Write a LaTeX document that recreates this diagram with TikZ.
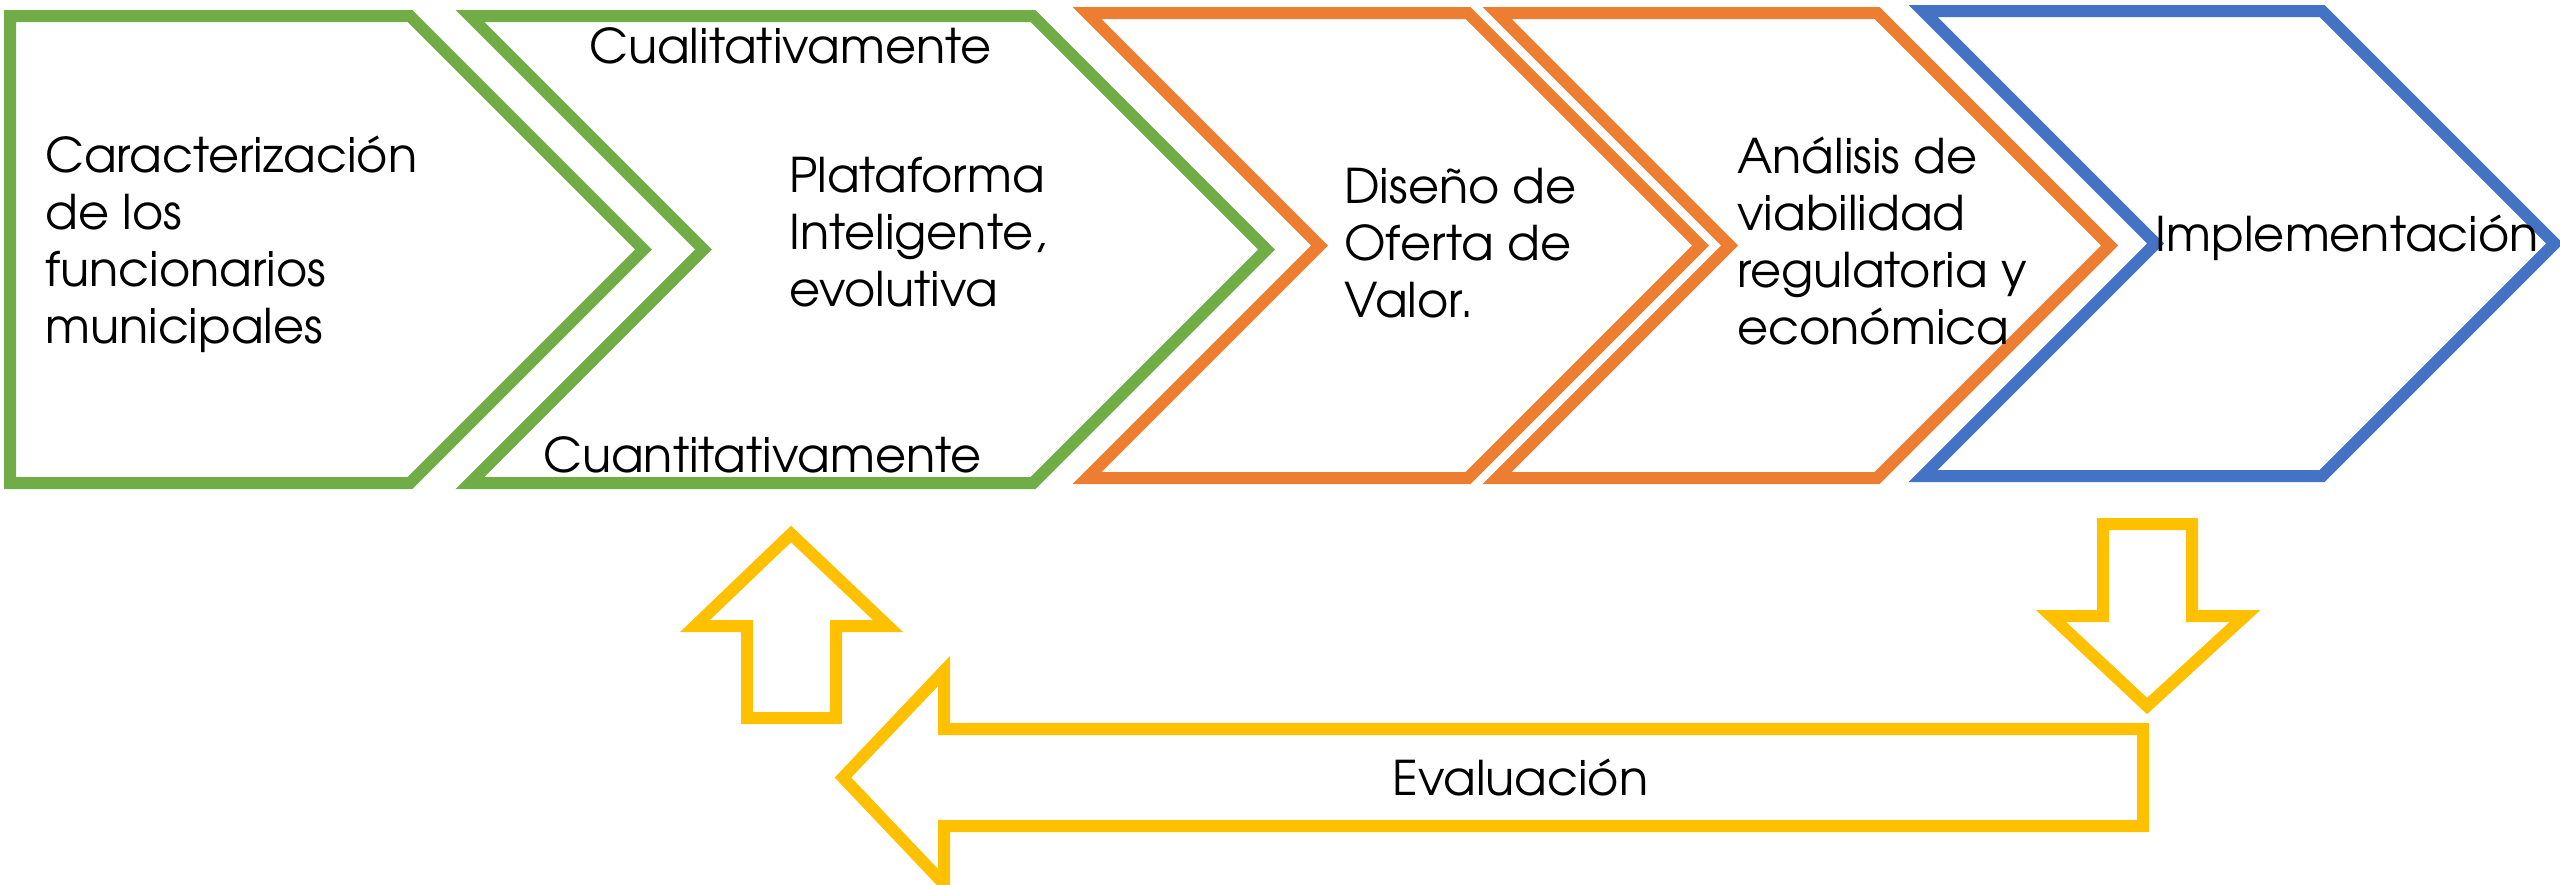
\documentclass[tikz,border=0pt]{standalone}
\usepackage{fontspec}
\setmainfont{TeX Gyre Adventor}
\definecolor{cgreen}{HTML}{70AD47}
\definecolor{corange}{HTML}{ED7D31}
\definecolor{cblue}{HTML}{4472C4}
\definecolor{cyellow}{HTML}{FFC000}
\begin{document}
\begin{tikzpicture}[x=0.5pt,y=-0.5pt,
  chev/.style={draw=#1, line width=6pt, line join=miter, miter limit=10},
  lbl/.style={inner sep=0pt, anchor=base west, align=left, font=\fontsize{23.9pt}{28.35pt}\selectfont}]
\useasboundingbox (0,0) rectangle (2560,884);
% chevrons
\draw[chev=cgreen] (10,16) -- (410,16) -- (643.5,249.5) -- (410,483) -- (10,483) -- cycle;
\draw[chev=cgreen] (470,16) -- (1033,16) -- (1266.5,249.5) -- (1033,483) -- (470,483) -- (703.5,249.5) -- cycle;
\draw[chev=corange] (1087,13) -- (1468,13) -- (1700.5,245.5) -- (1468,478) -- (1087,478) -- (1319.5,245.5) -- cycle;
\draw[chev=corange] (1497,13) -- (1877,13) -- (2109.5,245.5) -- (1877,478) -- (1497,478) -- (1729.5,245.5) -- cycle;
\draw[chev=cblue] (1923,11) -- (2322,11) -- (2554.5,243.5) -- (2322,476) -- (1923,476) -- (2155.5,243.5) -- cycle;
% yellow arrows
\draw[chev=cyellow] (791,534) -- (888,626) -- (836,626) -- (836,718) -- (747,718) -- (747,626) -- (695,626) -- cycle;
\draw[chev=cyellow] (2103,524) -- (2192,524) -- (2192,616) -- (2245,616) -- (2147,706) -- (2051,616) -- (2103,616) -- cycle;
\draw[chev=cyellow] (843,777.5) -- (944,671) -- (944,729) -- (2143,729) -- (2143,826) -- (944,826) -- (944,884) -- cycle;
% texts (multi-line nodes anchored at the baseline of their last line)
\node[lbl] (t1) at (45,343) {Caracterización\\de los\\funcionarios\\municipales};
\node[lbl] (t2a) at (589,63) {Cualitativamente};
\node[lbl] (t2b) at (789,306) {Plataforma\\Inteligente,\\evolutiva};
\node[lbl] (t2c) at (543,472) {Cuantitativamente};
\node[lbl] (t3) at (1344,317) {Diseño de\\Oferta de\\Valor.};
\node[lbl] (t4) at (1737,344) {Análisis de\\viabilidad\\regulatoria y\\económica};
\node[lbl] (t5) at (2155,251) {Implementación};
\node[lbl] (t6) at (1392,795) {Evaluación};
\end{tikzpicture}
\end{document}
